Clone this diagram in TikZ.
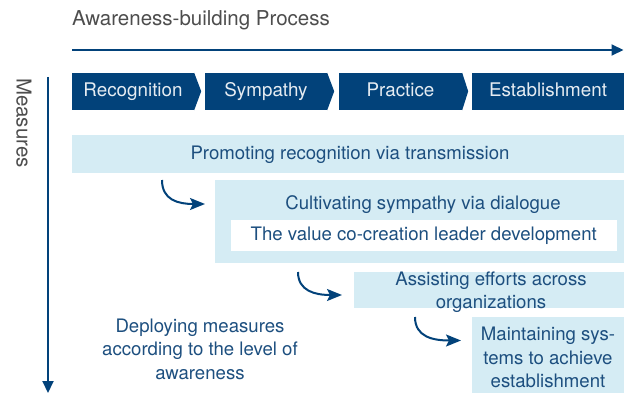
\documentclass[tikz,border=0pt]{standalone}
\usepackage{fontspec}
\setmainfont{TeX Gyre Heros}
\usetikzlibrary{arrows.meta}
\definecolor{dblue}{HTML}{02427A}
\definecolor{lblue}{HTML}{D5ECF4}
\definecolor{tblue}{HTML}{1D4F7F}
\definecolor{tgray}{HTML}{4D4D4D}
\definecolor{cwhite}{HTML}{E6ECF2}
\tikzset{
  chev/.style={fill=dblue, text=cwhite, inner sep=0pt, minimum height=37pt,
    text height=13.5pt, text depth=4pt,
    font=\fontsize{18.8}{22}\selectfont},
  lbox/.style={fill=lblue, inner sep=0pt, anchor=north west},
  wbox/.style={fill=white, inner sep=0pt},
  btext/.style={text=tblue, inner sep=0pt, align=center,
    font=\fontsize{18.6}{23.5}\selectfont},
  htext/.style={text=tgray, inner sep=0pt, font=\fontsize{20.5}{24}\selectfont},
  mainarrow/.style={draw=dblue, line width=2pt, -{Triangle[length=12pt,width=11pt]}},
  curvarrow/.style={draw=dblue, line width=2pt, -{Stealth[length=15pt,width=12pt,inset=3pt]}},
}
\begin{document}
\begin{tikzpicture}[x=1pt,y=-1pt]
\useasboundingbox (0,0) rectangle (624,393);

% title and axes
\node[htext, anchor=base west] (title) at (72,26) {Awareness-building Process};
\coordinate (h0) at (72,50);
\coordinate (h1) at (623.5,50);
\draw[mainarrow] (h0) -- (h1);
\node[htext, rotate=-90] (meas) at (24,123) {Measures};
\coordinate (v0) at (48,77);
\coordinate (v1) at (48,393);
\draw[mainarrow] (v0) -- (v1);

% chevrons
\node[chev, minimum width=122pt] (c1) at (133,91.5) {Recognition};
\fill[dblue] (c1.north east) -- ++(7,18.5) -- (c1.south east) -- cycle;
\node[chev, minimum width=122pt] (c2) at (266,91.5) {Sympathy};
\fill[dblue] (c2.north east) -- ++(7,18.5) -- (c2.south east) -- cycle;
\node[chev, minimum width=123pt] (c3) at (400.5,91.5) {Practice};
\fill[dblue] (c3.north east) -- ++(6,18.5) -- (c3.south east) -- cycle;
\node[chev, minimum width=152pt] (c4) at (548,91.5) {Establishment};

% light boxes
\node[lbox, minimum width=552pt, minimum height=37.5pt] (b1) at (72,135) {};
\node[btext] (t1) at (350,154.5) {Promoting recognition via transmission};

\node[lbox, minimum width=409pt, minimum height=83pt] (b2) at (215,180) {};
\node[btext] (t2) at (423,205) {Cultivating sympathy via dialogue};
\node[wbox, minimum width=386.5pt, minimum height=31.5pt] (w2) at (423.75,235.25) {};
\node[btext] (t2b) at (423.75,236) {The value co-creation leader development};

\node[lbox, minimum width=270pt, minimum height=36pt] (b3) at (354,272) {};
\node[btext, font=\fontsize{18.6}{22.5}\selectfont] (t3) at (491,292) {Assisting efforts across\\organizations};

\node[lbox, minimum width=152pt, minimum height=76.5pt] (b4) at (472,316.5) {};
\node[btext] (t4) at (548,357.5) {Maintaining sys-\\tems to achieve\\establishment};

\node[btext] (dep) at (200,349) {Deploying measures\\according to the level of\\awareness};

% curved arrows
\coordinate (a1s) at (162,180);
\coordinate (a1e) at (205,204);
\draw[curvarrow] (a1s) .. controls (162,200) and (178,204) .. (a1e);
\coordinate (a2s) at (298,272);
\coordinate (a2e) at (342,295);
\draw[curvarrow] (a2s) .. controls (298,291) and (315,295) .. (a2e);
\coordinate (a3s) at (415,317);
\coordinate (a3e) at (461,340.5);
\draw[curvarrow] (a3s) .. controls (415,337) and (433,340.5) .. (a3e);
\end{tikzpicture}
\end{document}
